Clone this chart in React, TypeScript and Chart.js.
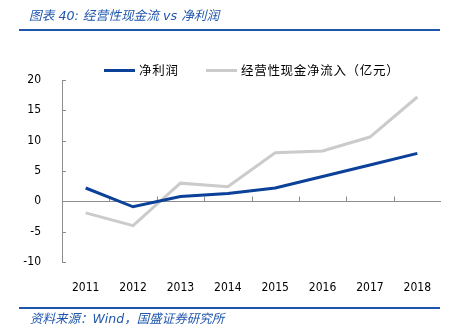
import React, { useEffect, useRef } from "react";
import { Chart, registerables } from "chart.js";
Chart.register(...registerables);

const years = ["2011", "2012", "2013", "2014", "2015", "2016", "2017", "2018"];
const netProfit = [2.2, -0.9, 0.8, 1.3, 2.2, 4.1, 6.0, 7.9];
const operatingCashFlow = [-1.9, -4.0, 3.0, 2.4, 8.0, 8.3, 10.6, 17.2];
const seriesNames = ["净利润", "经营性现金净流入（亿元）"];
const seriesColors = ["#0b4199", "#cbcbcb"];
const yMin = -10;
const yMax = 20;
const yStep = 5;
const titleText = "图表 40: 经营性现金流 vs 净利润";
const sourceText = "资料来源：Wind，国盛证券研究所";

const AXIS_COLOR = "#8c8c8c";
const TICK_FONT = { family: "'DejaVu Sans Condensed', 'DejaVu Sans', sans-serif", size: 12 };

const axisMarks = {
  id: "axisMarks",
  beforeDatasetsDraw(chart: any) {
    const { ctx, chartArea, scales } = chart;
    const xs = scales.x;
    const ys = scales.y;
    const y0 = Math.round(ys.getPixelForValue(0)) + 0.5;
    ctx.save();
    ctx.strokeStyle = AXIS_COLOR;
    ctx.lineWidth = 1;
    ctx.beginPath();
    ctx.moveTo(chartArea.left, y0);
    ctx.lineTo(chartArea.right, y0);
    for (let i = 1; i < years.length; i++) {
      const px = Math.round((xs.getPixelForValue(i - 1) + xs.getPixelForValue(i)) / 2) + 0.5;
      ctx.moveTo(px, y0);
      ctx.lineTo(px, y0 - 5);
    }
    ys.ticks.forEach((t: any) => {
      const py = Math.round(ys.getPixelForValue(t.value)) + 0.5;
      ctx.moveTo(chartArea.left, py);
      ctx.lineTo(chartArea.left + 4, py);
    });
    ctx.stroke();
    ctx.restore();
  },
};

export default function App() {
  const ref = useRef<HTMLCanvasElement | null>(null);

  useEffect(() => {
    const canvas = ref.current;
    if (!canvas) return;
    const chart = new Chart(canvas, {
      type: "line",
      data: {
        labels: years,
        datasets: [
          {
            label: seriesNames[0],
            data: netProfit,
            borderColor: seriesColors[0],
            backgroundColor: seriesColors[0],
            borderWidth: 3,
            pointRadius: 0,
            tension: 0,
          },
          {
            label: seriesNames[1],
            data: operatingCashFlow,
            borderColor: seriesColors[1],
            backgroundColor: seriesColors[1],
            borderWidth: 3,
            pointRadius: 0,
            tension: 0,
          },
        ],
      },
      options: {
        animation: false,
        responsive: false,
        maintainAspectRatio: false,
        devicePixelRatio: 1,
        layout: { padding: { top: 80, right: 20, bottom: 0, left: 0 } },
        plugins: {
          legend: { display: false },
          title: { display: false },
          tooltip: { enabled: false },
        },
        scales: {
          x: {
            offset: true,
            grid: { display: false },
            border: { display: false },
            ticks: { color: "#000", font: TICK_FONT, padding: 11, maxRotation: 0 },
            afterFit: (scale: any) => {
              scale.height = 71;
            },
          },
          y: {
            min: yMin,
            max: yMax,
            grid: { display: false },
            border: { display: true, color: AXIS_COLOR, width: 1 },
            ticks: { stepSize: yStep, color: "#000", font: TICK_FONT, padding: 13 },
            afterFit: (scale: any) => {
              scale.width = 62;
            },
          },
        },
      },
      plugins: [axisMarks],
    });
    return () => chart.destroy();
  }, []);

  const cjk = "'DejaVu Sans', 'Noto Sans CJK SC', sans-serif";
  const blue = "#1f56ad";

  return (
    <div
      style={{
        position: "fixed",
        left: 0,
        top: 0,
        width: 461,
        height: 333,
        background: "#fff",
        overflow: "hidden",
      }}
    >
      <canvas ref={ref} width={461} height={333} style={{ position: "absolute", left: 0, top: 0, width: 461, height: 333 }} />
      <div
        style={{
          position: "absolute",
          left: 29,
          top: 7,
          fontFamily: cjk,
          fontStyle: "italic",
          fontSize: 12.7,
          color: blue,
          whiteSpace: "nowrap",
          lineHeight: "18px",
        }}
      >
        {titleText}
      </div>
      <div style={{ position: "absolute", left: 19, top: 29, width: 421, height: 2, background: blue }} />
      <div style={{ position: "absolute", left: 19, top: 307, width: 421, height: 2, background: blue }} />
      <div
        style={{
          position: "absolute",
          left: 30,
          top: 310,
          fontFamily: cjk,
          fontStyle: "italic",
          fontSize: 12.5,
          color: blue,
          whiteSpace: "nowrap",
          lineHeight: "18px",
        }}
      >
        {sourceText}
      </div>
      {seriesNames.map((name, i) => {
        const swatchLeft = i === 0 ? 104 : 206;
        return (
          <React.Fragment key={name}>
            <div
              style={{
                position: "absolute",
                left: swatchLeft,
                top: 69,
                width: 31,
                height: 3,
                background: seriesColors[i],
              }}
            />
            <div
              style={{
                position: "absolute",
                left: swatchLeft + 35,
                top: 61,
                fontFamily: "'Noto Sans CJK SC', sans-serif",
                fontSize: 12.5,
                lineHeight: "18px",
                color: "#000",
                whiteSpace: "nowrap",
                letterSpacing: "0.7px",
              }}
            >
              {name}
            </div>
          </React.Fragment>
        );
      })}
    </div>
  );
}
